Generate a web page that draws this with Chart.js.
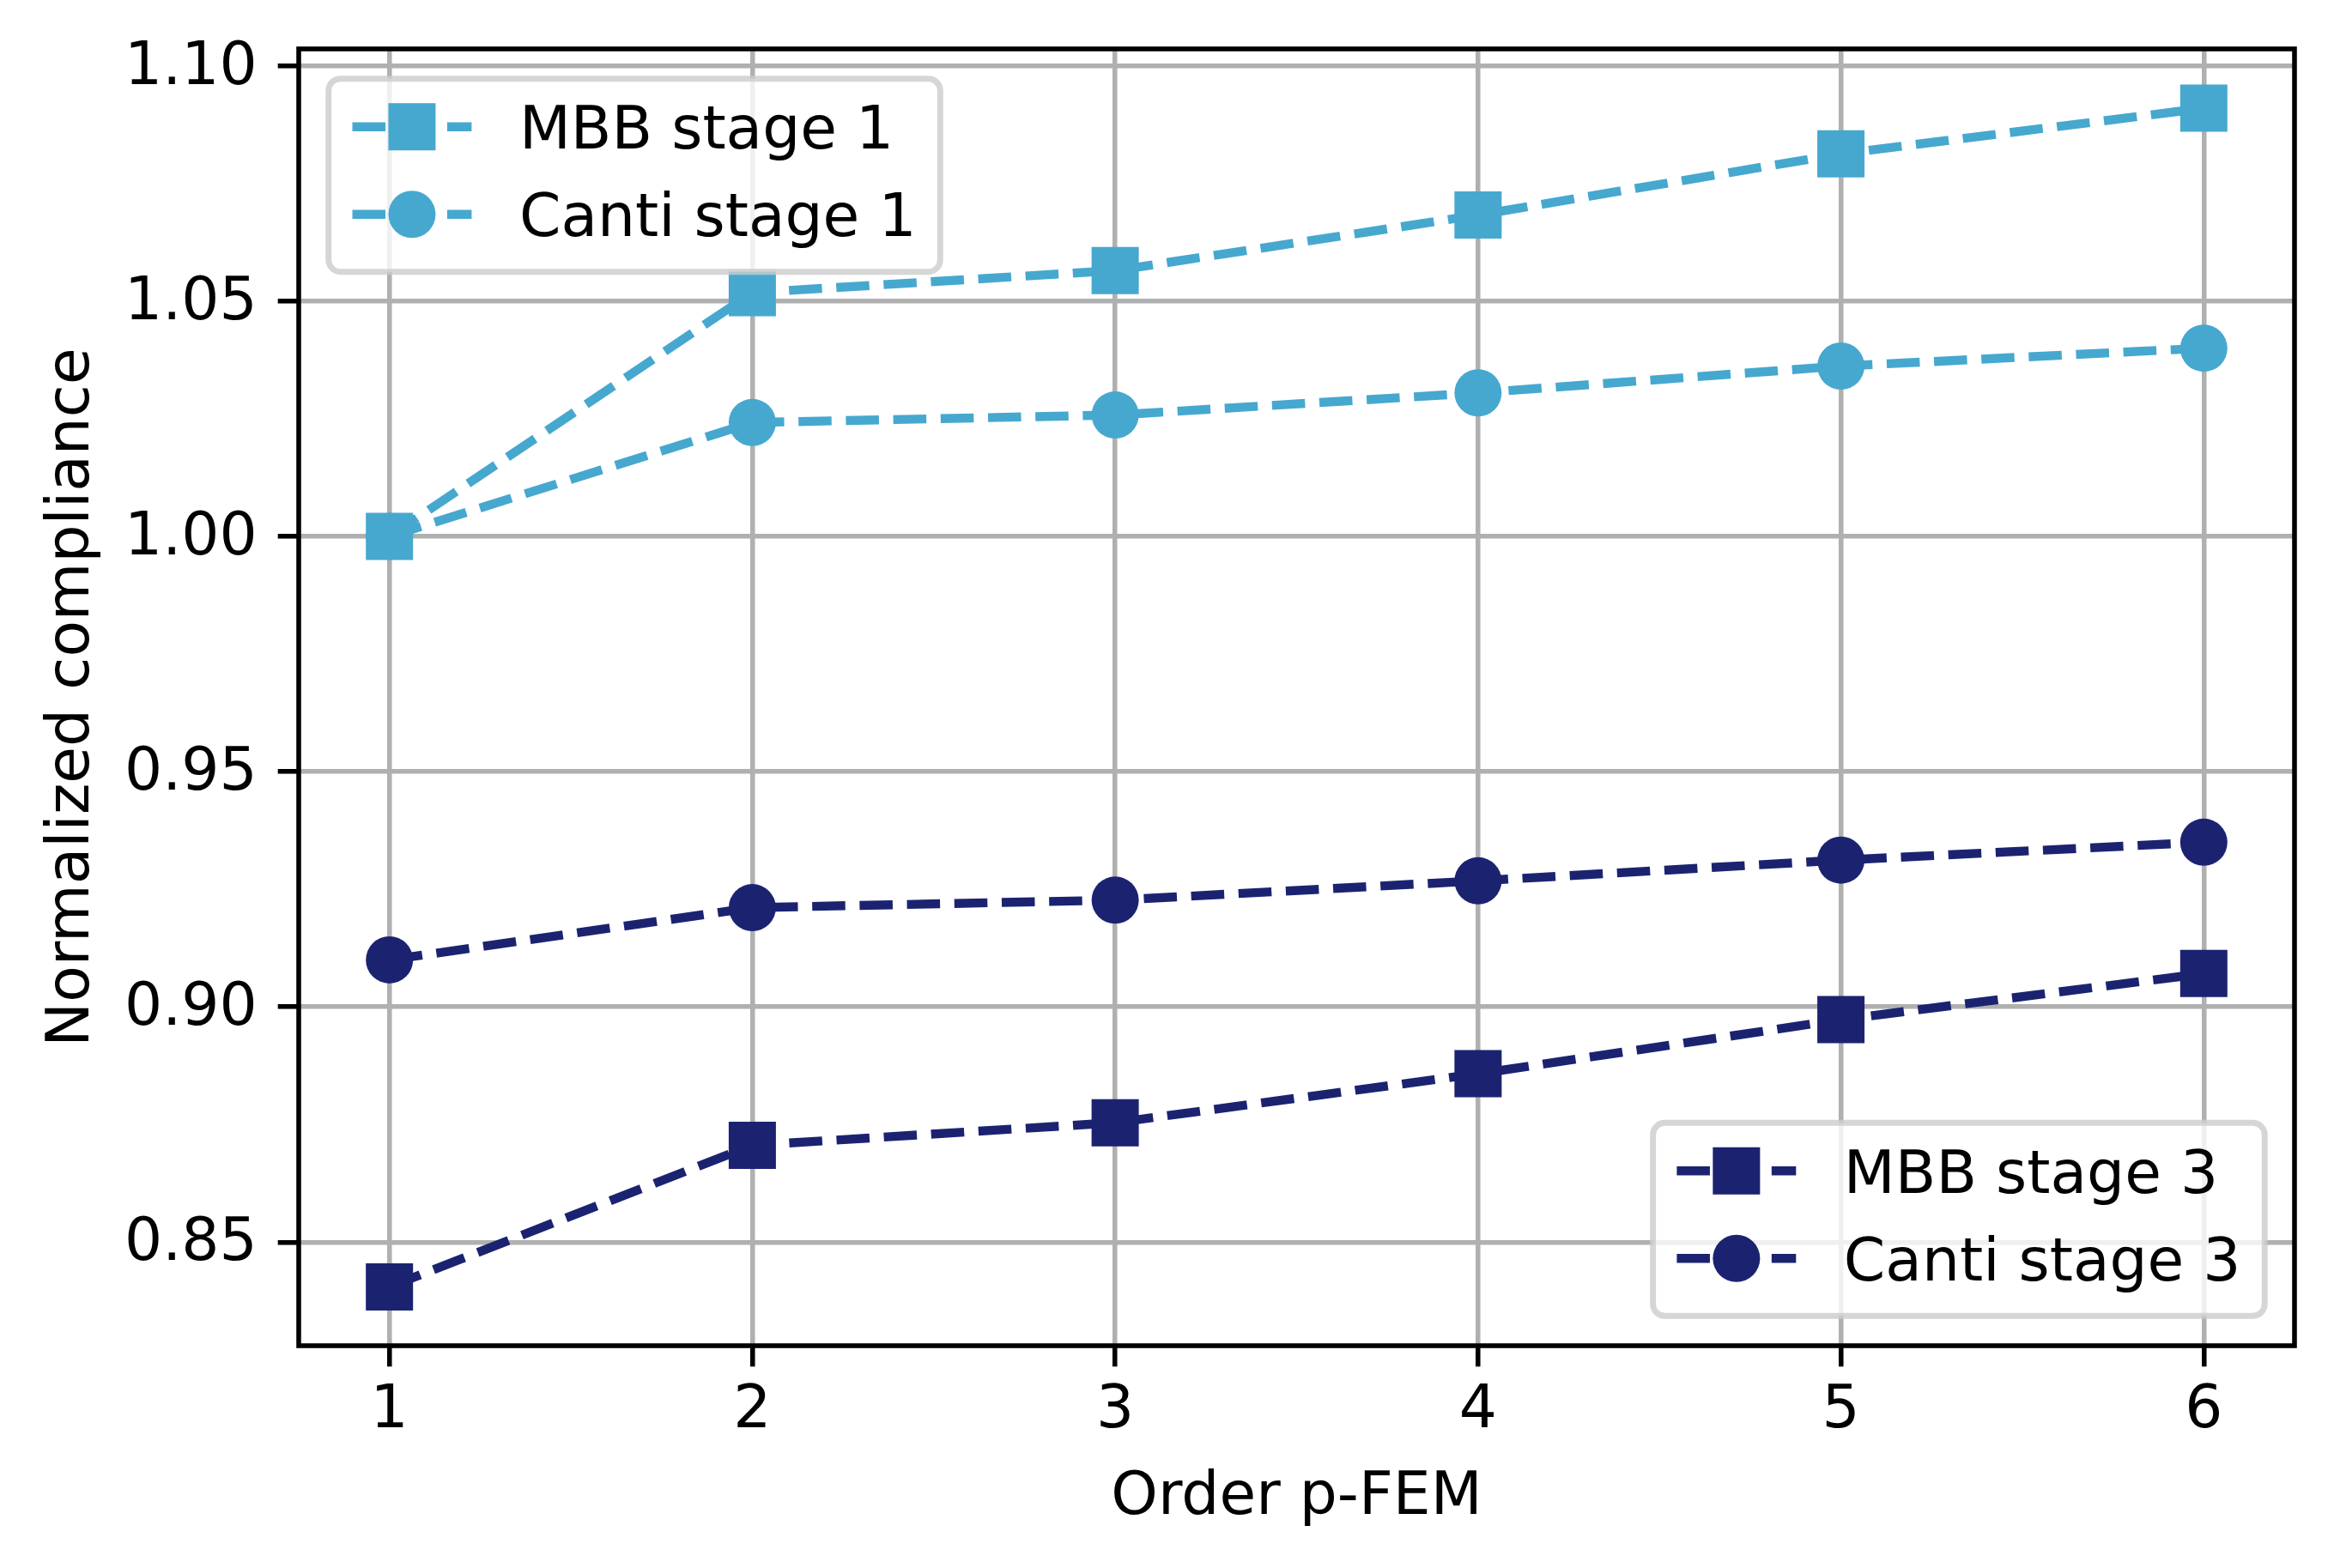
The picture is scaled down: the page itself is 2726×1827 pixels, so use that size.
<!DOCTYPE html>
<html>
<head>
<meta charset="utf-8">
<script src="https://cdn.jsdelivr.net/npm/chart.js@4.4.1/dist/chart.umd.min.js"></script>
<style>
  html, body { margin: 0; padding: 0; background: #fff; }
  canvas { display: block; }
</style>
</head>
<body>
<canvas id="complianceChart" width="2726" height="1827" style="width:2726px;height:1827px"></canvas>
<script>
// --- Dados ---
const orders = [1, 2, 3, 4, 5, 6];
const xTicks = [1, 2, 3, 4, 5, 6];
const yTicks = [0.85, 0.90, 0.95, 1.00, 1.05, 1.10];

const mbbStage1   = [1.000, 1.0518, 1.0565, 1.0683, 1.0813, 1.0910];
const cantiStage1 = [1.000, 1.0242, 1.0258, 1.0305, 1.0362, 1.0400];
const mbbStage3   = [0.8405, 0.8706, 0.8754, 0.8858, 0.8973, 0.9071];
const cantiStage3 = [0.9100, 0.9211, 0.9227, 0.9268, 0.9312, 0.9350];

// --- Estilo (figura em 500 dpi: 1 pt = 500/72 px) ---
const PT = 500 / 72;
const FONT_SIZE = 10 * PT;
const FONT_FAMILY = '"DejaVu Sans", sans-serif';
const LIGHT = '#46a8cf';
const DARK = '#1b2371';
const LINE_W = 1.5 * PT;
const DASH = [3.7 * LINE_W, 1.6 * LINE_W];
const MARKER = 55; // lado do quadrado / diâmetro do círculo, px

const toPoints = (ys) => orders.map((x, i) => ({ x: x, y: ys[i] }));

function series(label, ys, color, style) {
    return {
        label: label,
        data: toPoints(ys),
        borderColor: color,
        backgroundColor: color,
        borderWidth: LINE_W,
        borderDash: DASH,
        fill: false,
        tension: 0,
        pointStyle: style,
        // 'rect' no Chart.js tem lado = 2 * r * SQRT1_2
        pointRadius: style === 'rect' ? MARKER / (2 * Math.SQRT1_2) : MARKER / 2,
        pointHoverRadius: style === 'rect' ? MARKER / (2 * Math.SQRT1_2) : MARKER / 2,
        pointBackgroundColor: color,
        pointBorderWidth: 0
    };
}

// Duas legendas separadas, como no original
const legendGroups = [
    { corner: 'upper left', items: [0, 1] },
    { corner: 'lower right', items: [2, 3] }
];

// zera o padding extra que o Chart.js reserva para os rótulos
function noScalePadding(scale) {
    scale.paddingTop = 0;
    scale.paddingBottom = 0;
    scale.paddingLeft = 0;
    scale.paddingRight = 0;
}

// Moldura completa dos eixos (spines)
const spinesPlugin = {
    id: 'spines',
    afterDatasetsDraw(chart) {
        const { ctx, chartArea: a } = chart;
        ctx.save();
        ctx.strokeStyle = '#000';
        ctx.lineWidth = 0.8 * PT;
        ctx.lineJoin = 'miter';
        ctx.strokeRect(a.left, a.top, a.right - a.left, a.bottom - a.top);
        ctx.restore();
    }
};

function roundedBox(ctx, x, y, w, h, r) {
    ctx.beginPath();
    ctx.moveTo(x + r, y);
    ctx.lineTo(x + w - r, y);
    ctx.arcTo(x + w, y, x + w, y + r, r);
    ctx.lineTo(x + w, y + h - r);
    ctx.arcTo(x + w, y + h, x + w - r, y + h, r);
    ctx.lineTo(x + r, y + h);
    ctx.arcTo(x, y + h, x, y + h - r, r);
    ctx.lineTo(x, y + r);
    ctx.arcTo(x, y, x + r, y, r);
    ctx.closePath();
}

// Legendas desenhadas à mão (estilo matplotlib)
const twoLegendsPlugin = {
    id: 'twoLegends',
    afterDraw(chart) {
        const { ctx, chartArea: a } = chart;
        const datasets = chart.data.datasets;
        const pad = 0.4 * FONT_SIZE;
        const handleLen = 2.0 * FONT_SIZE;
        const textPad = 0.8 * FONT_SIZE;
        const axPad = 0.5 * FONT_SIZE;
        const rowStep = 102;
        const boxH = 225;

        ctx.save();
        ctx.font = FONT_SIZE + 'px ' + FONT_FAMILY;
        legendGroups.forEach(group => {
            let textW = 0;
            group.items.forEach(i => {
                textW = Math.max(textW, ctx.measureText(datasets[i].label).width);
            });
            const boxW = 2 * pad + handleLen + textPad + textW;
            let x0, y0;
            if (group.corner === 'upper left') {
                x0 = a.left + axPad;
                y0 = a.top + axPad;
            } else {
                x0 = a.right - axPad - boxW;
                y0 = a.bottom - axPad - boxH;
            }

            roundedBox(ctx, x0, y0, boxW, boxH, 0.2 * FONT_SIZE);
            ctx.fillStyle = 'rgba(255,255,255,0.8)';
            ctx.fill();
            ctx.strokeStyle = 'rgba(204,204,204,0.8)';
            ctx.lineWidth = 1.0 * PT;
            ctx.stroke();

            group.items.forEach((i, row) => {
                const ds = datasets[i];
                const cy = y0 + 56 + row * rowStep;
                const hx = x0 + pad;

                // linha tracejada do handle
                ctx.beginPath();
                ctx.setLineDash(DASH);
                ctx.lineCap = 'butt';
                ctx.strokeStyle = ds.borderColor;
                ctx.lineWidth = LINE_W;
                ctx.moveTo(hx, cy);
                ctx.lineTo(hx + handleLen, cy);
                ctx.stroke();
                ctx.setLineDash([]);

                // marcador no centro
                const mx = hx + handleLen / 2;
                ctx.fillStyle = ds.borderColor;
                if (ds.pointStyle === 'rect') {
                    ctx.fillRect(mx - MARKER / 2, cy - MARKER / 2, MARKER, MARKER);
                } else {
                    ctx.beginPath();
                    ctx.arc(mx, cy, MARKER / 2, 0, 2 * Math.PI);
                    ctx.fill();
                }

                // texto
                ctx.fillStyle = '#000';
                ctx.textAlign = 'left';
                ctx.textBaseline = 'alphabetic';
                ctx.fillText(ds.label, hx + handleLen + textPad, cy + 25.5);
            });
        });
        ctx.restore();
    }
};

const ctx = document.getElementById('complianceChart').getContext('2d');

const complianceChart = new Chart(ctx, {
    type: 'line',
    data: {
        datasets: [
            series('MBB stage 1', mbbStage1, LIGHT, 'rect'),
            series('Canti stage 1', cantiStage1, LIGHT, 'circle'),
            series('MBB stage 3', mbbStage3, DARK, 'rect'),
            series('Canti stage 3', cantiStage3, DARK, 'circle')
        ]
    },
    options: {
        responsive: false,
        devicePixelRatio: 1,
        animation: false,
        layout: {
            padding: { top: 57, right: 53, bottom: 0, left: 0 }
        },
        scales: {
            x: {
                type: 'linear',
                min: 0.75,
                max: 6.25,
                afterBuildTicks: (scale) => { scale.ticks = xTicks.map(v => ({ value: v })); },
                afterFit: (scale) => { scale.height = 259; noScalePadding(scale); },
                grid: {
                    color: '#b0b0b0',
                    lineWidth: 0.8 * PT,
                    drawTicks: true,
                    tickLength: 3.5 * PT,
                    tickColor: '#000',
                    tickWidth: 0.8 * PT
                },
                border: { display: false },
                ticks: {
                    color: '#000',
                    padding: 11,
                    maxRotation: 0,
                    font: { family: FONT_FAMILY, size: FONT_SIZE },
                    callback: (v) => String(v)
                },
                title: {
                    display: true,
                    text: 'Order p-FEM',
                    color: '#000',
                    font: { family: FONT_FAMILY, size: FONT_SIZE },
                    padding: { top: 0, bottom: 39 }
                }
            },
            y: {
                type: 'linear',
                min: 0.828,
                max: 1.1036,
                afterBuildTicks: (scale) => { scale.ticks = yTicks.map(v => ({ value: v })); },
                afterFit: (scale) => { scale.width = 348; noScalePadding(scale); },
                grid: {
                    color: '#b0b0b0',
                    lineWidth: 0.8 * PT,
                    drawTicks: true,
                    tickLength: 3.5 * PT,
                    tickColor: '#000',
                    tickWidth: 0.8 * PT
                },
                border: { display: false },
                ticks: {
                    color: '#000',
                    padding: 24,
                    labelOffset: 3,
                    font: { family: FONT_FAMILY, size: FONT_SIZE },
                    callback: (v) => Number(v).toFixed(2)
                },
                title: {
                    display: true,
                    text: 'Normalized compliance',
                    color: '#000',
                    font: { family: FONT_FAMILY, size: FONT_SIZE },
                    padding: { top: 43, bottom: 0 }
                }
            }
        },
        plugins: {
            legend: { display: false },
            tooltip: { enabled: false }
        }
    },
    plugins: [spinesPlugin, twoLegendsPlugin]
});
</script>
</body>
</html>
